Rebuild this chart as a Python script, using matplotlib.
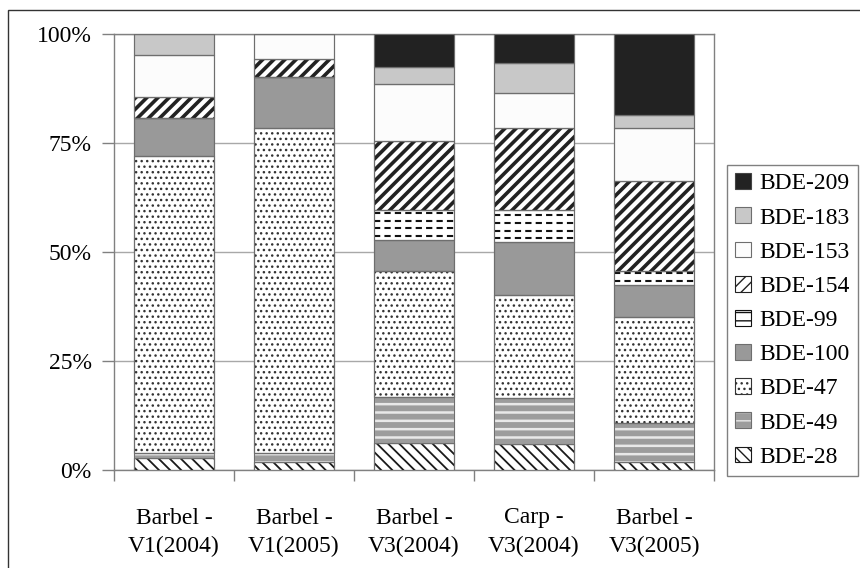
import matplotlib
matplotlib.use("Agg")
import matplotlib.pyplot as plt
from matplotlib.patches import Patch, Rectangle
import numpy as np

plt.rcParams['font.family'] = ['Liberation Serif', 'DejaVu Serif']

groups = ["Barbel -\nV1(2004)", "Barbel -\nV1(2005)", "Barbel -\nV3(2004)",
          "Carp -\nV3(2004)", "Barbel -\nV3(2005)"]

# percentage of each congener, bottom of the stack first
bde28 = [2.7, 1.8, 6.1, 5.9, 1.9]
bde49 = [1.3, 2.2, 10.7, 10.7, 8.8]
bde47 = [68.1, 74.6, 28.9, 23.6, 24.5]
bde100 = [8.6, 11.7, 7.1, 12.1, 7.3]
bde99 = [0.0, 0.0, 6.9, 7.4, 3.2]
bde154 = [4.8, 4.0, 15.9, 18.7, 20.6]
bde153 = [9.7, 5.7, 12.9, 8.1, 12.1]
bde183 = [4.8, 0.0, 4.1, 7.0, 3.1]
bde209 = [0.0, 0.0, 7.4, 6.5, 18.5]

series = [("BDE-28", bde28), ("BDE-49", bde49), ("BDE-47", bde47),
          ("BDE-100", bde100), ("BDE-99", bde99), ("BDE-154", bde154),
          ("BDE-153", bde153), ("BDE-183", bde183), ("BDE-209", bde209)]

# face, hatch colour (edge), hatch, hatch linewidth
styles = {
    "BDE-28": ("white", "#1a1a1a", "\\\\\\", 1.3),
    "BDE-49": ("#9c9c9c", "#e8e8e8", "--", 1.8),
    "BDE-47": ("white", "#333333", "...", 1.0),
    "BDE-100": ("#999999", "#6e6e6e", None, 1.0),
    "BDE-99": ("white", "#6e6e6e", None, 1.0),
    "BDE-154": ("white", "#222222", "///", 2.6),
    "BDE-153": ("#fcfcfc", "#6e6e6e", None, 1.0),
    "BDE-183": ("#c8c8c8", "#6e6e6e", None, 1.0),
    "BDE-209": ("#222222", "#444444", None, 1.0),
}

vals = np.array([s[1] for s in series], dtype=float)
vals = vals / vals.sum(axis=0) * 100

fig = plt.figure(figsize=(8.6, 5.68), dpi=100)
ax = fig.add_axes([114/860, 1-470/568, 600/860, 435.7/568])

x = np.arange(len(groups))
width = 0.667
bottom = np.zeros(len(groups))
handles = {}
for (name, _), v in zip(series, vals):
    face, hc, hatch, hlw = styles[name]
    with plt.rc_context({'hatch.linewidth': hlw}):
        bars = ax.bar(x, v, width, bottom=bottom, color=face, edgecolor=hc,
                      hatch=hatch, linewidth=0.8, zorder=3)
    for b in bars:
        if hasattr(b, "set_hatch_linewidth"):
            b.set_hatch_linewidth(hlw)
    # grey outline on top of every segment
    outline = ax.bar(x, v, width, bottom=bottom, facecolor="none",
                     edgecolor="#6e6e6e", linewidth=0.8, zorder=4)
    if name == "BDE-99":
        for i, b in enumerate(bars):
            if v[i] <= 0:
                continue
            ys = np.arange(bottom[i] + 0.9, bottom[i] + v[i], 1.75)
            ln = ax.hlines(ys, x[i] - width/2, x[i] + width/2, colors="#111111",
                           linewidth=1.5, linestyles=(0, (3, 2)), zorder=3.5)
            ln.set_clip_path(b)
        h = Patch(facecolor="white", edgecolor="#111111", hatch="--", linewidth=0.8)
    elif name == "BDE-49":
        h = (bars[0], outline[0])
    else:
        h = bars[0]
    handles[name] = h
    bottom += v

ax.set_xlim(-0.5, 4.5)
ax.set_ylim(0, 100)
ax.set_yticks([0, 25, 50, 75, 100])
ax.set_yticklabels(["0%", "25%", "50%", "75%", "100%"])
ax.set_xticks(x)
ax.set_xticklabels(groups, linespacing=1.45)
ax.set_xticks(np.arange(-0.5, 5, 1), minor=True)
ax.tick_params(axis="x", which="major", length=0, pad=27, labelsize=17)
ax.tick_params(axis="x", which="minor", length=8, color="#808080", width=1)
ax.tick_params(axis="y", length=9, color="#808080", width=1, pad=7, labelsize=17)
ax.yaxis.grid(True, color="#a8a8a8", linewidth=1)
ax.set_axisbelow(True)
for sp in ax.spines.values():
    sp.set_color("#808080")
    sp.set_linewidth(1)

names = [s[0] for s in series][::-1]
leg = fig.legend([handles[n] for n in names], names, loc="upper left",
                 bbox_to_anchor=(727/860, 1-165/568), fontsize=17,
                 handlelength=0.65, handleheight=0.65, handletextpad=0.35,
                 labelspacing=0.55, borderpad=0.35, borderaxespad=0,
                 fancybox=False, framealpha=1, edgecolor="#808080")
leg.get_frame().set_linewidth(1)

fig.patches.append(Rectangle((8/860, -0.1), 1.2, 1 - 10/568 + 0.1,
                             transform=fig.transFigure, fill=False,
                             edgecolor="#333333", linewidth=1))

fig.savefig("out.png", dpi=100)
